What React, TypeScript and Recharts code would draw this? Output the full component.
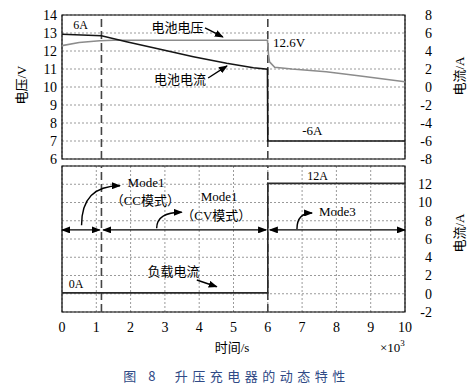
import React from 'react';
import {
    LineChart,
    Line,
    XAxis,
    YAxis,
    CartesianGrid,
    ReferenceLine,
    ReferenceDot,
    ReferenceArea,
} from 'recharts';

// time axis, in units of 10^3 s
const timeTicks = [0, 1, 2, 3, 4, 5, 6, 7, 8, 9, 10];
const voltTicks = [6, 7, 8, 9, 10, 11, 12, 13, 14];
const topAmpTicks = [-8, -6, -4, -2, 0, 2, 4, 6, 8];
const bottomAmpTicks = [-2, 0, 2, 4, 6, 8, 10, 12];

// battery voltage (V)
const voltageTime = [0, 0.5, 1.1, 1.5, 3, 5, 5.99, 6.02, 6.05, 6.2, 6.7, 7.7, 8.7, 10];
const voltageValue = [12.3, 12.47, 12.57, 12.6, 12.6, 12.6, 12.6, 11.8, 11.4, 11.1, 11.0, 10.85, 10.61, 10.29];

// battery current (A)
const batteryTime = [0, 1.15, 1.88, 2.86, 3.83, 4.8, 5.58, 5.99, 6.0, 10];
const batteryValue = [5.86, 5.7, 5.03, 4.19, 3.37, 2.63, 2.14, 1.97, -6, -6];

// load current (A)
const loadTime = [0, 6, 6, 10];
const loadValue = [0.1, 0.1, 12.1, 12.1];

// mode switch instants
const modeSwitch = [1.15, 6];

const toPoints = (t: number[], v: number[]) => t.map((x, i) => ({ t: x, y: v[i] }));
const voltageData = toPoints(voltageTime, voltageValue);
const batteryData = toPoints(batteryTime, batteryValue);
const loadData = toPoints(loadTime, loadValue);

const FONT = "'Liberation Serif', 'Times New Roman', 'Noto Sans CJK SC', serif";

const LeftTick = ({ x, y, payload }: any) => (
    <text x={x} y={y} dy="0.35em" textAnchor="end" style={{ fontFamily: FONT, fontSize: 14 }} fill="#000">
        {payload.value}
    </text>
);

const RightTick = ({ x, y, payload }: any) => (
    <text x={x} y={y} dy="0.35em" textAnchor="end" style={{ fontFamily: FONT, fontSize: 14 }} fill="#000">
        {payload.value}
    </text>
);

const BottomTick = ({ x, y, payload }: any) => (
    <text x={x} y={y} dy="0.75em" textAnchor="middle" style={{ fontFamily: FONT, fontSize: 14 }} fill="#000">
        {payload.value}
    </text>
);

const note = (label: string, size = 13) => (p: any) => (
    <text
        x={p.cx}
        y={p.cy}
        textAnchor="middle"
        dominantBaseline="central"
        style={{ fontFamily: FONT, fontSize: size }}
        fill="#000"
    >
        {label}
    </text>
);

const straightArrow = (id: string) => (p: any) => (
    <line x1={p.x1} y1={p.y1} x2={p.x2} y2={p.y2} stroke="#000" strokeWidth={1.4} markerEnd={`url(#${id}End)`} />
);

const doubleArrow = (id: string) => (p: any) => (
    <line
        x1={p.x1}
        y1={p.y1}
        x2={p.x2}
        y2={p.y2}
        stroke="#000"
        strokeWidth={1.4}
        markerStart={`url(#${id}Start)`}
        markerEnd={`url(#${id}End)`}
    />
);

const curvedArrow = (id: string) => (p: any) => (
    <path
        d={`M${p.x1},${p.y1} Q${p.x1},${p.y2} ${p.x2},${p.y2}`}
        fill="none"
        stroke="#000"
        strokeWidth={1.4}
        markerEnd={`url(#${id}End)`}
    />
);

const ArrowDefs = ({ id }: { id: string }) => (
    <defs>
        <marker id={`${id}End`} markerUnits="userSpaceOnUse" markerWidth={9} markerHeight={7} refX={8} refY={3.5} orient="auto">
            <path d="M0,0 L9,3.5 L0,7 z" fill="#000" />
        </marker>
        <marker id={`${id}Start`} markerUnits="userSpaceOnUse" markerWidth={9} markerHeight={7} refX={1} refY={3.5} orient="auto">
            <path d="M9,0 L0,3.5 L9,7 z" fill="#000" />
        </marker>
    </defs>
);

const TopPanel = () => (
    <LineChart width={473} height={170} margin={{ top: 15, right: 28, bottom: 11, left: 22 }}>
        <ArrowDefs id="top" />
        <CartesianGrid yAxisId="v" stroke="#9a9a9a" strokeDasharray="2 2" />
        <XAxis
            dataKey="t"
            type="number"
            domain={[0, 10]}
            ticks={timeTicks}
            interval={0}
            height={0}
            tick={false}
            axisLine={false}
            tickLine={false}
            allowDataOverflow
        />
        <YAxis
            yAxisId="v"
            orientation="left"
            domain={[6, 14]}
            ticks={voltTicks}
            interval={0}
            width={40}
            tickSize={0}
            tickMargin={5}
            axisLine={false}
            tickLine={false}
            tick={<LeftTick />}
        />
        <YAxis
            yAxisId="a"
            orientation="right"
            domain={[-8, 8]}
            ticks={topAmpTicks}
            interval={0}
            width={40}
            tickSize={0}
            tickMargin={27}
            axisLine={false}
            tickLine={false}
            tick={<RightTick />}
        />
        {modeSwitch.map((m) => (
            <ReferenceLine key={m} yAxisId="v" x={m} stroke="#444" strokeWidth={1.6} strokeDasharray="8 4" />
        ))}
        <Line
            data={voltageData}
            dataKey="y"
            yAxisId="v"
            type="linear"
            stroke="#8c8c8c"
            strokeWidth={1.6}
            dot={false}
            isAnimationActive={false}
        />
        <Line
            data={batteryData}
            dataKey="y"
            yAxisId="a"
            type="linear"
            stroke="#151515"
            strokeWidth={1.6}
            dot={false}
            isAnimationActive={false}
        />
        <ReferenceArea yAxisId="v" x1={0} x2={10} y1={6} y2={14} fill="none" stroke="#000" strokeWidth={1.2} />
        <ReferenceDot yAxisId="v" x={0.54} y={13.42} shape={note('6A', 12)} />
        <ReferenceDot yAxisId="v" x={3.37} y={13.33} shape={note('电池电压')} />
        <ReferenceLine yAxisId="v" segment={[{ x: 4.17, y: 13.28 }, { x: 4.69, y: 12.78 }]} shape={straightArrow('top')} />
        <ReferenceDot yAxisId="v" x={3.44} y={10.44} shape={note('电池电流')} />
        <ReferenceLine yAxisId="v" segment={[{ x: 4.26, y: 10.5 }, { x: 4.81, y: 11.17 }]} shape={straightArrow('top')} />
        <ReferenceDot yAxisId="v" x={6.62} y={12.5} shape={note('12.6V', 13)} />
        <ReferenceDot yAxisId="v" x={7.3} y={7.56} shape={note('-6A', 13)} />
    </LineChart>
);

const BottomPanel = () => (
    <LineChart width={473} height={200} margin={{ top: 6, right: 28, bottom: 18, left: 62 }}>
        <ArrowDefs id="bot" />
        <CartesianGrid yAxisId="a" stroke="#9a9a9a" strokeDasharray="2 2" />
        <XAxis
            dataKey="t"
            type="number"
            domain={[0, 10]}
            ticks={timeTicks}
            interval={0}
            height={30}
            tickSize={0}
            tickMargin={9}
            axisLine={false}
            tickLine={false}
            tick={<BottomTick />}
            allowDataOverflow
        />
        <YAxis
            yAxisId="a"
            orientation="right"
            domain={[-2, 14]}
            ticks={bottomAmpTicks}
            interval={0}
            width={40}
            tickSize={0}
            tickMargin={27}
            axisLine={false}
            tickLine={false}
            tick={<RightTick />}
        />
        {modeSwitch.map((m) => (
            <ReferenceLine key={m} yAxisId="a" x={m} stroke="#444" strokeWidth={1.6} strokeDasharray="8 4" />
        ))}
        <Line
            data={loadData}
            dataKey="y"
            yAxisId="a"
            type="linear"
            stroke="#2a2a2a"
            strokeWidth={1.6}
            dot={false}
            isAnimationActive={false}
        />
        <ReferenceArea yAxisId="a" x1={0} x2={10} y1={-2} y2={14} fill="none" stroke="#000" strokeWidth={1.2} />
        <ReferenceLine yAxisId="a" segment={[{ x: 0, y: 7 }, { x: 1.1, y: 7 }]} shape={doubleArrow('bot')} />
        <ReferenceLine yAxisId="a" segment={[{ x: 1.2, y: 7 }, { x: 5.95, y: 7 }]} shape={doubleArrow('bot')} />
        <ReferenceLine yAxisId="a" segment={[{ x: 6.06, y: 7 }, { x: 10, y: 7 }]} shape={doubleArrow('bot')} />
        <ReferenceLine yAxisId="a" segment={[{ x: 0.57, y: 7.5 }, { x: 1.69, y: 11.84 }]} shape={curvedArrow('bot')} />
        <ReferenceLine yAxisId="a" segment={[{ x: 2.76, y: 7.17 }, { x: 3.49, y: 8.93 }]} shape={curvedArrow('bot')} />
        <ReferenceLine yAxisId="a" segment={[{ x: 6.85, y: 7.1 }, { x: 7.29, y: 8.85 }]} shape={curvedArrow('bot')} />
        <ReferenceLine yAxisId="a" segment={[{ x: 3.93, y: 1.51 }, { x: 4.51, y: 0.77 }]} shape={straightArrow('bot')} />
        <ReferenceDot yAxisId="a" x={2.45} y={12.14} shape={note('Mode1')} />
        <ReferenceDot yAxisId="a" x={2.43} y={10.27} shape={note('（CC模式）')} />
        <ReferenceDot yAxisId="a" x={4.58} y={10.64} shape={note('Mode1')} />
        <ReferenceDot yAxisId="a" x={4.5} y={8.63} shape={note('（CV模式）')} />
        <ReferenceDot yAxisId="a" x={8.03} y={8.96} shape={note('Mode3')} />
        <ReferenceDot yAxisId="a" x={7.45} y={12.9} shape={note('12A', 12)} />
        <ReferenceDot yAxisId="a" x={0.41} y={1.12} shape={note('0A', 12)} />
        <ReferenceDot yAxisId="a" x={3.25} y={2.45} shape={note('负载电流')} />
    </LineChart>
);

export default function App() {
    return (
        <div style={{ position: 'absolute', left: 0, top: 0, width: 473, height: 390, background: '#fff' }}>
            <div style={{ position: 'absolute', left: 0, top: 0 }}>
                <TopPanel />
            </div>
            <div style={{ position: 'absolute', left: 0, top: 160 }}>
                <BottomPanel />
            </div>
            <svg
                width={473}
                height={390}
                style={{ position: 'absolute', left: 0, top: 0, pointerEvents: 'none', fontFamily: FONT }}
            >
                <text x={21} y={85} transform="rotate(-90 21 85)" textAnchor="middle" dominantBaseline="central" fontSize={13}>
                    电压/V
                </text>
                <text x={459} y={76} transform="rotate(-90 459 76)" textAnchor="middle" dominantBaseline="central" fontSize={13}>
                    电流/A
                </text>
                <text x={459} y={233} transform="rotate(-90 459 233)" textAnchor="middle" dominantBaseline="central" fontSize={13}>
                    电流/A
                </text>
                <text x={232} y={352} textAnchor="middle" fontSize={13}>
                    时间/s
                </text>
                <text x={380} y={352} fontSize={13}>
                    ×10
                    <tspan fontSize={9} dy={-6}>
                        3
                    </tspan>
                </text>
            </svg>
            <div
                style={{
                    position: 'absolute',
                    left: 0,
                    top: 368,
                    width: 473,
                    textAlign: 'center',
                    fontFamily: "'Noto Sans CJK SC', sans-serif",
                    fontSize: 13,
                    lineHeight: '16px',
                    letterSpacing: 4.5,
                    color: '#2f4a86',
                    whiteSpace: 'pre',
                }}
            >
                {'图 8  升压充电器的动态特性'}
            </div>
        </div>
    );
}
